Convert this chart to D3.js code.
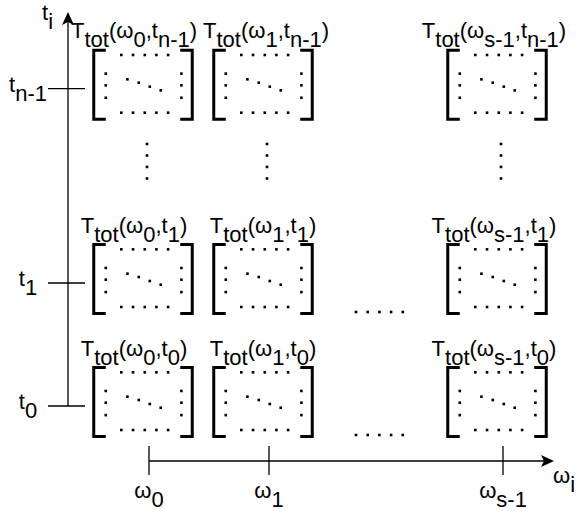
<!DOCTYPE html>
<html>
<head>
<meta charset="utf-8">
<script src="https://cdn.jsdelivr.net/npm/d3@7"></script>
<style>
body { margin: 0; background: #fff; }
text { font-family: Arial, "Liberation Sans", sans-serif; font-size: 22px; fill: #000; }
</style>
</head>
<body>
<svg id="chart" width="576" height="511"></svg>
<script>
// frequencies along x (subscript, position in omega steps)
const omegaSubs = ['0', '1', 's-1']
const omegaPos = [0, 1, 2.95]

// time points along y
const timeSubs = ['0', '1', 'n-1']
const timePos = [0, 1, 2.58]

// axis names
const xAxisName = ['ω', 'i']
const yAxisName = ['t', 'i']

// where the skipped columns / rows are drawn
const skipOmega = 1.92
const skipTime = 1.99

// dot pattern inside one matrix (fractions of the box)
const dotRowX = [0.28, 0.399, 0.518, 0.636, 0.755]
const dotRowY = [0.07, 0.906]
const dotColX = [0.122, 0.89]
const dotColY = [0.34, 0.51, 0.69]
const dotDiag = [[0.342, 0.423], [0.457, 0.471], [0.569, 0.529], [0.68, 0.583]]


const svg = d3.select('#chart')

let x = d3.scaleLinear().domain([0, 1]).range([149, 269])
let y = d3.scaleLinear().domain([0, 1]).range([406, 283])

const boxW = 98.5, boxH = 69
const subShift = 9

// writes text where parts flagged 1 are subscripts
function subText(sel, parts){
	let down = false
	parts.forEach(function(p){
		let t = sel.append('tspan').text(p[0])
		if(p[1] && !down){ t.attr('dy', subShift); down = true }
		else if(!p[1] && down){ t.attr('dy', -subShift); down = false }
	})
}

// ---- axes ----
let yTop = 12, xTip = 554

svg.append('line')
	.attr('x1', 68).attr('x2', 68)
	.attr('y1', y(timePos[0])).attr('y2', yTop + 8)
	.attr('stroke', '#000').attr('stroke-width', 1.3)

svg.append('path')
	.attr('d', `M68,${yTop} L74,${yTop + 13} L68,${yTop + 10} L62,${yTop + 13} Z`)
	.attr('fill', '#000')

svg.append('line')
	.attr('x1', x(omegaPos[0])).attr('x2', xTip - 8)
	.attr('y1', 461).attr('y2', 461)
	.attr('stroke', '#000').attr('stroke-width', 1.3)

svg.append('path')
	.attr('d', `M${xTip},461 L${xTip - 13},455 L${xTip - 10},461 L${xTip - 13},467 Z`)
	.attr('fill', '#000')

svg.selectAll('.xtick')
	.data(omegaPos)
	.enter()
	.append('line')
	.attr('class', 'xtick')
	.attr('x1', d => x(d)).attr('x2', d => x(d))
	.attr('y1', 446).attr('y2', 475)
	.attr('stroke', '#000').attr('stroke-width', 1.3)

svg.selectAll('.ytick')
	.data(timePos)
	.enter()
	.append('line')
	.attr('class', 'ytick')
	.attr('x1', 48).attr('x2', 85)
	.attr('y1', d => y(d)).attr('y2', d => y(d))
	.attr('stroke', '#000').attr('stroke-width', 1.3)

svg.selectAll('.xlabel')
	.data(omegaPos)
	.enter()
	.append('text')
	.attr('class', 'xlabel')
	.attr('x', d => x(d))
	.attr('y', 498)
	.attr('text-anchor', 'middle')
	.each(function(d, i){ subText(d3.select(this), [['ω', 0], [omegaSubs[i], 1]]) })

svg.selectAll('.ylabel')
	.data(timePos)
	.enter()
	.append('text')
	.attr('class', 'ylabel')
	.attr('x', 28)
	.attr('y', d => y(d) + 3)
	.attr('text-anchor', 'middle')
	.each(function(d, i){ subText(d3.select(this), [['t', 0], [timeSubs[i], 1]]) })

subText(svg.append('text').attr('x', 553).attr('y', 483), [[xAxisName[0], 0], [xAxisName[1], 1]])
subText(svg.append('text').attr('x', 42).attr('y', 20), [[yAxisName[0], 0], [yAxisName[1], 1]])

// ---- matrices ----
let cells = []
omegaPos.forEach(function(w, i){
	timePos.forEach(function(t, j){
		cells.push({w: w, t: t, ws: omegaSubs[i], ts: timeSubs[j], col: i, row: j})
	})
})

let colShift = [-9, 0, -3]

let boxes = svg.selectAll('.cell')
	.data(cells)
	.enter()
	.append('g')
	.attr('class', 'cell')
	.attr('transform', d => `translate(${x(d.w) - 6 - boxW / 2},${y(d.t) - 4 - boxH / 2})`)

let gx = d3.scaleLinear().domain([0, 1]).range([0, boxW])
let gy = d3.scaleLinear().domain([0, 1]).range([0, boxH])

boxes.append('path')
	.attr('d', `M12,0 H0 V${boxH} H12 M${boxW - 12},0 H${boxW} V${boxH} H${boxW - 12}`)
	.attr('fill', 'none').attr('stroke', '#000').attr('stroke-width', 3)

let pattern = []
dotRowY.forEach(yy => dotRowX.forEach(xx => pattern.push([xx, yy])))
dotColX.forEach(xx => dotColY.forEach(yy => pattern.push([xx, yy])))
dotDiag.forEach(p => pattern.push(p))

boxes.selectAll('.dot')
	.data(pattern)
	.enter()
	.append('rect')
	.attr('x', d => gx(d[0]) - 1.3)
	.attr('y', d => gy(d[1]) - 1.3)
	.attr('width', 2.6).attr('height', 2.6)
	.attr('fill', '#000')

// titles above each matrix
let titles = svg.selectAll('.title')
	.data(cells)
	.enter()
	.append('text')
	.attr('class', 'title')
	.attr('x', d => x(d.w) - 6 + colShift[d.col])
	.attr('y', d => y(d.t) - 4 - boxH / 2 - 12)
	.attr('text-anchor', 'middle')
	.each(function(d){
		subText(d3.select(this), [['T', 0], ['tot', 1], ['(ω', 0], [d.ws, 1], [',t', 0], [d.ts, 1], [')', 0]])
	})

// push titles apart where they run into each other
timePos.forEach(function(t, j){
	let prevEnd = -Infinity
	titles.filter(d => d.row == j).each(function(){
		let b = this.getBBox()
		if(b.x < prevEnd + 6){
			let nx = +d3.select(this).attr('x') + (prevEnd + 6 - b.x)
			d3.select(this).attr('x', nx)
			b = this.getBBox()
		}
		prevEnd = b.x + b.width
	})
})

// ---- ellipses for skipped rows and columns ----
svg.selectAll('.vskip')
	.data(omegaPos)
	.enter()
	.append('g')
	.attr('class', 'vskip')
	.selectAll('rect')
	.data(d => [-1.5, -0.5, 0.5, 1.5].map(k => [d, k]))
	.enter()
	.append('rect')
	.attr('x', d => x(d[0]) - 2 - 1.3)
	.attr('y', d => y(skipTime) + d[1] * 11.5 - 1.3)
	.attr('width', 2.6).attr('height', 2.6)
	.attr('fill', '#000')

svg.selectAll('.hskip')
	.data(timePos.slice(0, 2))
	.enter()
	.append('g')
	.attr('class', 'hskip')
	.selectAll('rect')
	.data(d => [-2, -1, 0, 1, 2].map(k => [d, k]))
	.enter()
	.append('rect')
	.attr('x', d => x(skipOmega) + d[1] * 11.7 - 1.3)
	.attr('y', d => y(d[0]) + 29 - 1.3)
	.attr('width', 2.6).attr('height', 2.6)
	.attr('fill', '#000')

</script>
</body>
</html>
